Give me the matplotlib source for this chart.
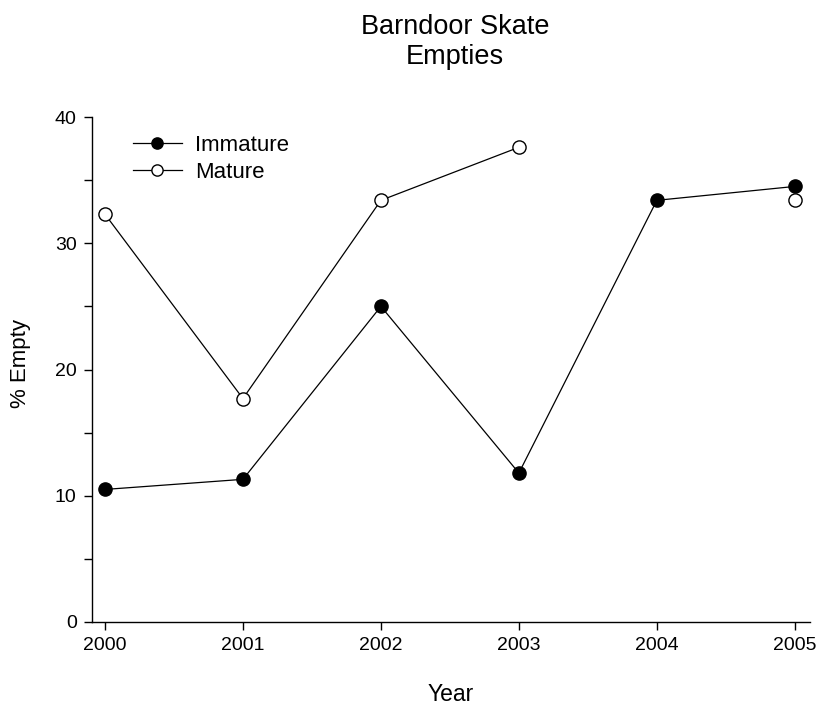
import numpy as np
import matplotlib.pyplot as plt
from matplotlib.ticker import MultipleLocator

plt.rcParams["font.family"] = ["Liberation Sans", "DejaVu Sans"]

years = [2000, 2001, 2002, 2003, 2004, 2005]
immature = [10.5, 11.3, 25.0, 11.8, 33.4, 34.5]
mature = [32.3, 17.7, 33.4, 37.6, np.nan, 33.4]  # no 2004 value

W, H = 820, 709
fig = plt.figure(figsize=(W / 100, H / 100), dpi=100)
# axes box in pixels: x 92..810, y 117..622
ax = fig.add_axes([92 / W, 1 - 622 / H, 718 / W, 505 / H])

ax.plot(years, immature, color="black", lw=0.9, marker="o", ms=9.5,
        mfc="black", mec="black", mew=1.0, label="Immature")
ax.plot(years, mature, color="black", lw=0.9, marker="o", ms=9.5,
        mfc="white", mec="black", mew=1.0, label="Mature")

ax.set_xlim(1999.906, 2005.11)
ax.set_ylim(0, 40)
ax.set_xticks(years)
ax.yaxis.set_major_locator(MultipleLocator(10))
ax.yaxis.set_minor_locator(MultipleLocator(5))

for side in ["top", "right"]:
    ax.spines[side].set_visible(False)
ax.spines["left"].set_linewidth(1.0)
ax.spines["bottom"].set_linewidth(1.0)
ax.tick_params(axis="both", which="major", direction="out", length=6, width=1.0,
               labelsize=14, pad=5)
ax.tick_params(axis="y", which="minor", direction="out", length=6, width=1.0)

ax.set_xlabel("Year", fontsize=16.5)
ax.xaxis.set_label_coords(0.5, -0.121)
ax.set_ylabel("% Empty", fontsize=16)
ax.yaxis.set_label_coords(-0.085, 0.512)

# two-line title
fig.text(455 / W, 1 - 34 / H, "Barndoor Skate", fontsize=19.5,
         ha="center", va="baseline")
fig.text(455 / W, 1 - 64 / H, "Empties", fontsize=19.5,
         ha="center", va="baseline")

ax.legend(loc="upper left", bbox_to_anchor=(133 / W, 1 - 135 / H),
          bbox_transform=fig.transFigure, frameon=False, borderpad=0,
          borderaxespad=0, fontsize=16, handlelength=2.2,
          handletextpad=0.6, labelspacing=0.25, markerscale=0.85)

fig.savefig("out.png", dpi=100)
